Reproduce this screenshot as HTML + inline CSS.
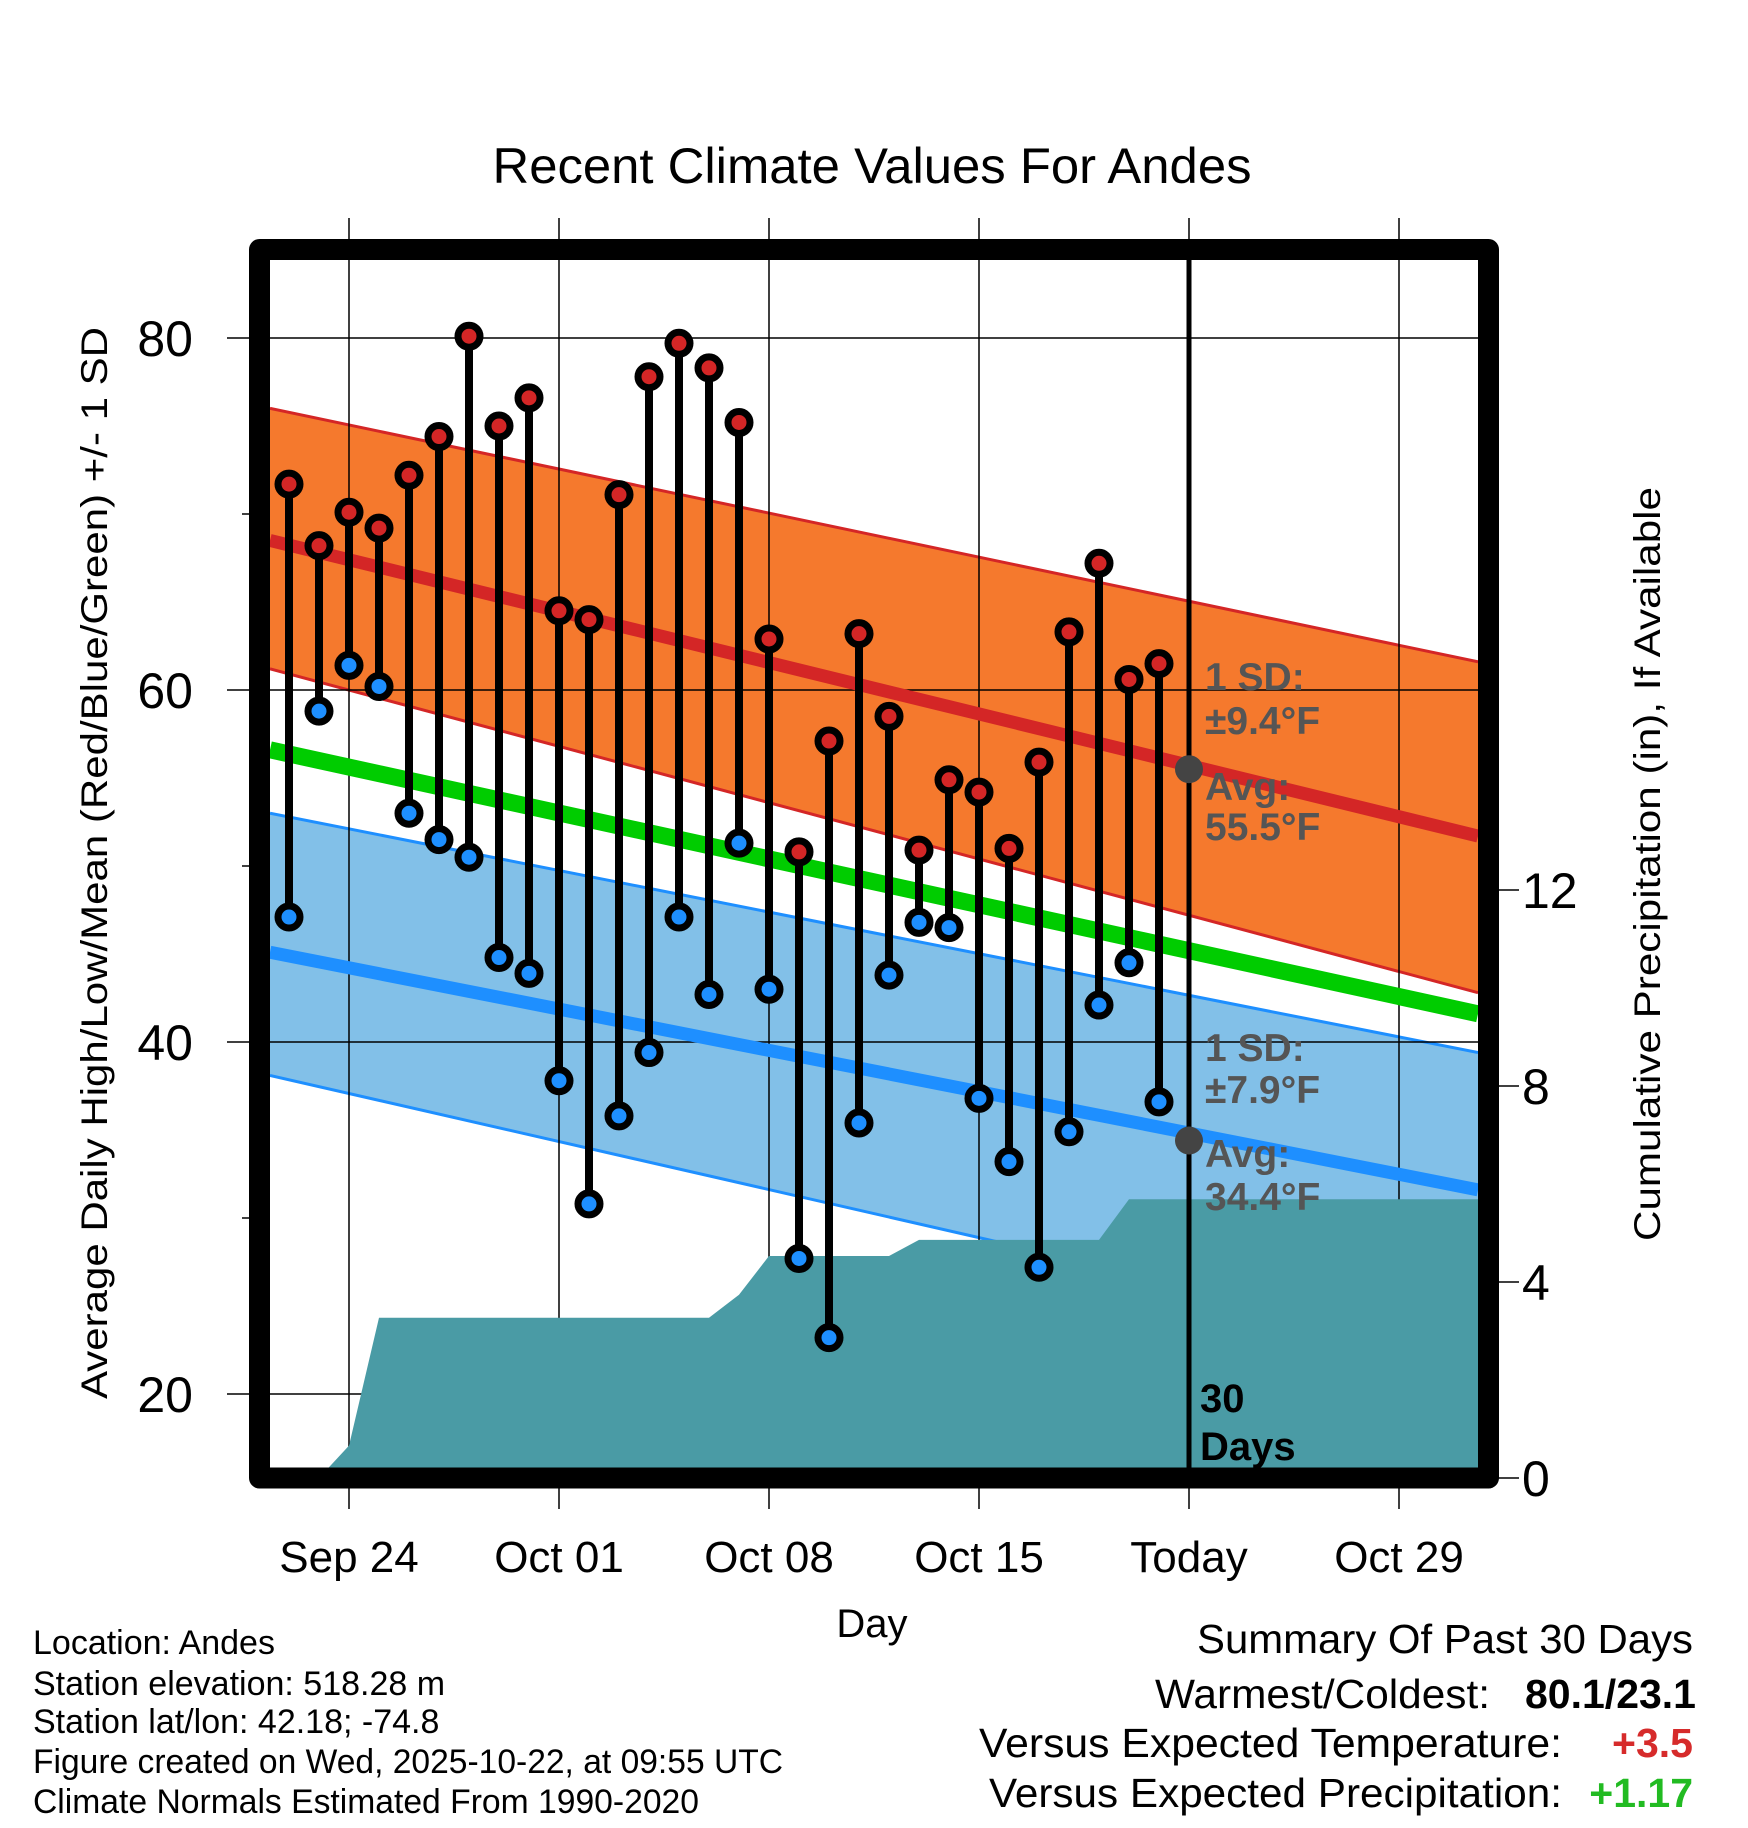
<!DOCTYPE html>
<html><head><meta charset="utf-8"><style>
html,body{margin:0;padding:0;background:#fff;}
svg{display:block;font-family:"Liberation Sans",Arial,sans-serif;}
</style></head><body>
<svg id="chart" width="1748" height="1828" viewBox="0 0 1748 1828" xmlns="http://www.w3.org/2000/svg">
<defs><clipPath id="plotclip"><rect x="270" y="260" width="1208" height="1208"/></clipPath></defs>
<g id="bands" clip-path="url(#plotclip)"></g>
<g id="axes"></g>
<g id="marks"></g>
<rect x="259.5" y="249.5" width="1229" height="1228.5" fill="none" stroke="#000" stroke-width="21" stroke-linejoin="round"/>
<text x="872" y="183" text-anchor="middle" font-size="50" textLength="759" lengthAdjust="spacingAndGlyphs">Recent Climate Values For Andes</text>
<text transform="translate(107,863) rotate(-90)" text-anchor="middle" font-size="37" textLength="1072" lengthAdjust="spacingAndGlyphs">Average Daily High/Low/Mean (Red/Blue/Green) +/- 1 SD</text>
<text transform="translate(1660,864) rotate(-90)" text-anchor="middle" font-size="37" textLength="754" lengthAdjust="spacingAndGlyphs">Cumulative Precipitation (in), If Available</text>
<text x="872" y="1637" text-anchor="middle" font-size="40">Day</text>
<g font-size="34">
<text x="33" y="1654">Location: Andes</text>
<text x="33" y="1695">Station elevation: 518.28 m</text>
<text x="33" y="1733">Station lat/lon: 42.18; -74.8</text>
<text x="33" y="1773" textLength="750" lengthAdjust="spacingAndGlyphs">Figure created on Wed, 2025-10-22, at 09:55 UTC</text>
<text x="33" y="1813" textLength="666" lengthAdjust="spacingAndGlyphs">Climate Normals Estimated From 1990-2020</text>
</g>
<g font-size="41" text-anchor="end">
<text x="1693" y="1653" textLength="496" lengthAdjust="spacingAndGlyphs">Summary Of Past 30 Days</text>
<text x="1490" y="1708" textLength="335" lengthAdjust="spacingAndGlyphs">Warmest/Coldest:</text>
<text x="1696" y="1708" font-weight="bold">80.1/23.1</text>
<text x="1562" y="1757" textLength="583" lengthAdjust="spacingAndGlyphs">Versus Expected Temperature:</text>
<text x="1693" y="1757" font-weight="bold" fill="#d62b2b">+3.5</text>
<text x="1562" y="1807" textLength="573" lengthAdjust="spacingAndGlyphs">Versus Expected Precipitation:</text>
<text x="1693" y="1807" font-weight="bold" fill="#22bb22">+1.17</text>
</g>
</svg>
<script>
const highs=[71.7,68.2,70.1,69.2,72.2,74.4,80.1,75.0,76.6,64.5,64.0,71.1,77.8,79.7,78.3,75.2,62.9,50.8,57.1,63.2,58.5,50.9,54.9,54.2,51.0,55.9,63.3,67.2,60.6,61.5];
const lows=[47.1,58.8,61.4,60.2,53.0,51.5,50.5,44.8,43.9,37.8,30.8,35.8,39.4,47.1,42.7,51.3,43.0,27.7,23.2,35.4,43.8,46.8,46.5,36.8,33.2,27.2,34.9,42.1,44.5,36.6];
const precip=[0,0.66,3.27,3.27,3.27,3.27,3.27,3.27,3.27,3.27,3.27,3.27,3.27,3.27,3.74,4.53,4.53,4.53,4.53,4.53,4.86,4.86,4.86,4.86,4.86,4.86,4.86,5.69,5.69,5.69];
const precipStartIndex=1;
const normHiUpper=[76.0,61.6];
const normHiAvg=[68.5,51.7];
const normHiLower=[61.2,42.8];
const normMean=[56.6,41.6];
const normLoUpper=[53.0,39.4];
const normLoAvg=[45.1,31.6];
const normLoLower=[38.1,22.4];
const todayHiAvg=55.5, todayLoAvg=34.4;
const tempTicks=[20,40,60,80];
const tempMinor=[30,50,70];
const precipTicks=[0,4,8,12];
const dateTickIdx=[2,9,16,23,30,37];
const dateTickLabels=["Sep 24","Oct 01","Oct 08","Oct 15","Today","Oct 29"];
const todayIdx=30;

const NS="http://www.w3.org/2000/svg";
const X0=270,X1=1478;
const xS=i=>289+30*i;
const iL=(X0-289)/30,iR=(X1-289)/30;
const yT=t=>338+(80-t)*17.6;
const yP=p=>1478-p*49;
function mk(parent,tag,attrs){const e=document.createElementNS(NS,tag);for(const k in attrs)e.setAttribute(k,attrs[k]);parent.appendChild(e);return e;}
const bands=document.getElementById('bands'),axes=document.getElementById('axes'),marks=document.getElementById('marks');
function edge(v){return [[xS(iL),yT(v[0])],[xS(iR),yT(v[1])]];}
function band(up,lo,fill,stroke,name){
  const a=edge(up),b=edge(lo);
  const p=mk(bands,'polygon',{points:[a[0],a[1],b[1],b[0]].map(q=>q.join(',')).join(' '),fill:fill});
  
  
  [a,b].forEach(s=>{const l=mk(bands,'line',{x1:s[0][0],y1:s[0][1],x2:s[1][0],y2:s[1][1],stroke:stroke,'stroke-width':3});
    
    });
}
band(normHiUpper,normHiLower,'#f5792d','#d42626','high-sd-band');
band(normLoUpper,normLoLower,'#82c0e8','#1e8fff','low-sd-band');
tempTicks.forEach(t=>{const l=mk(bands,'line',{x1:X0,y1:yT(t),x2:X1,y2:yT(t),stroke:'#000','stroke-width':1.5});
  
  });
dateTickIdx.forEach((d,k)=>{if(d===todayIdx)return;const l=mk(bands,'line',{x1:xS(d),y1:260,x2:xS(d),y2:1468,stroke:'#000','stroke-width':1.5});
  
  });
function avgLine(v,color,w,name){const s=edge(v);const l=mk(bands,'line',{x1:s[0][0],y1:s[0][1],x2:s[1][0],y2:s[1][1],stroke:color,'stroke-width':w});
  
  }
avgLine(normHiAvg,'#d42626',13,'avg-high-line');
avgLine(normMean,'#00cc00',17,'avg-mean-line');
avgLine(normLoAvg,'#1e8fff',13,'avg-low-line');
let pts=[];
precip.forEach((p,k)=>pts.push([xS(k+precipStartIndex),yP(p)]));
pts.push([X1,yP(precip[precip.length-1])]);
pts.push([X1,1468]);pts.push([xS(precipStartIndex),1468]);
const pa=mk(bands,'polygon',{points:pts.map(q=>q.join(',')).join(' '),fill:'#4a9ba5'});


tempTicks.forEach(t=>{const l=mk(axes,'line',{x1:227,y1:yT(t),x2:262,y2:yT(t),stroke:'#000','stroke-width':1.5});
  
  
  const tx=mk(axes,'text',{x:193,y:yT(t)+18,'text-anchor':'end','font-size':50});tx.textContent=t;
  
  });
tempMinor.forEach(t=>{const l=mk(axes,'line',{x1:242,y1:yT(t),x2:262,y2:yT(t),stroke:'#000','stroke-width':1.5});
  
  });
precipTicks.forEach(p=>{const l=mk(axes,'line',{x1:1488,y1:yP(p),x2:1519,y2:yP(p),stroke:'#000','stroke-width':1.5});
  
  
  const tx=mk(axes,'text',{x:1522,y:yP(p)+18,'font-size':50});tx.textContent=p;
  
  });
dateTickIdx.forEach((d,k)=>{
  const a=mk(axes,'line',{x1:xS(d),y1:218,x2:xS(d),y2:250,stroke:'#000','stroke-width':1.5});
  
  
  const b=mk(axes,'line',{x1:xS(d),y1:1478,x2:xS(d),y2:1509,stroke:'#000','stroke-width':1.5});
  
  
  const tx=mk(axes,'text',{x:xS(d),y:1572,'text-anchor':'middle','font-size':44});tx.textContent=dateTickLabels[k];
  
  });
highs.forEach((h,i)=>{const l=mk(marks,'line',{x1:xS(i),y1:yT(h),x2:xS(i),y2:yT(lows[i]),stroke:'#000','stroke-width':8});
  
  });
const tl=mk(marks,'line',{x1:xS(todayIdx),y1:260,x2:xS(todayIdx),y2:1468,stroke:'#000','stroke-width':5});


highs.forEach((h,i)=>{
  const c=mk(marks,'circle',{cx:xS(i),cy:yT(h),r:11,fill:'#d42626',stroke:'#000','stroke-width':7});
  
  
  const d=mk(marks,'circle',{cx:xS(i),cy:yT(lows[i]),r:11,fill:'#1e8fff',stroke:'#000','stroke-width':7});
  
  });
[[todayHiAvg,'today-high-avg-dot'],[todayLoAvg,'today-low-avg-dot']].forEach(([v,n])=>{
  const c=mk(marks,'circle',{cx:xS(todayIdx),cy:yT(v),r:14,fill:'#444'});
  
  });
const ann=[["1 SD:",690],["±9.4°F",734],["Avg:",800],["55.5°F",840],["1 SD:",1061],["±7.9°F",1103],["Avg:",1167],["34.4°F",1210]];
ann.forEach(([t,y],k)=>{const tx=mk(marks,'text',{x:1205,y:y,'font-size':39,'font-weight':'bold',fill:'#555'});tx.textContent=t;
  
  });
[["30",1412],["Days",1460]].forEach(([t,y],k)=>{const tx=mk(marks,'text',{x:1200,y:y,'font-size':40,'font-weight':'bold',fill:'#000'});tx.textContent=t;
  
  });
</script>
</body></html>
